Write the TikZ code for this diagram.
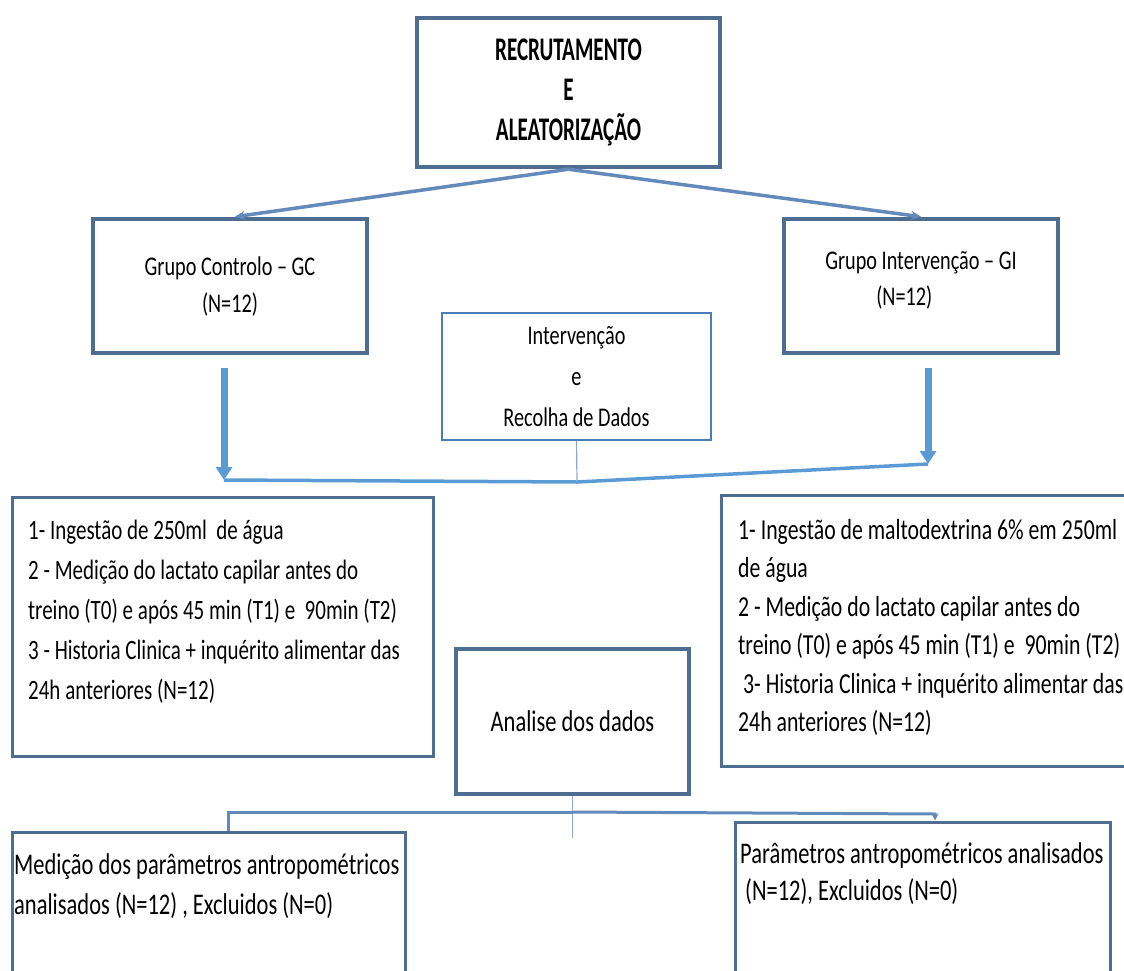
\documentclass[tikz,border=0pt]{standalone}
\usepackage{fontspec}
\setmainfont{Carlito}[FakeStretch=0.75]
\newfontfamily\titlefont{Carlito}[FakeStretch=0.64]
\usetikzlibrary{arrows.meta,calc}
\definecolor{boxdark}{RGB}{79,109,145}
\definecolor{boxmid}{RGB}{74,126,187}
\definecolor{arrowblue}{RGB}{91,155,213}
\definecolor{linkblue}{RGB}{98,138,186}
\definecolor{thinblue}{RGB}{140,170,205}
\newcommand\bodyfs{\fontsize{28}{40}\selectfont}
\begin{document}
\begin{tikzpicture}[x=1pt,y=-1pt,
  boxthick/.style={draw=boxdark, line width=4.5pt, inner sep=0pt},
  boxmed/.style={draw=boxdark, line width=3pt, inner sep=0pt},
  boxthin/.style={draw=boxmid, line width=1.6pt, inner sep=0pt},
  bodytext/.style={inner sep=0pt, font=\bodyfs, text=black},
  diag/.style={draw=linkblue, line width=3.5pt, -{Stealth[length=10pt,width=9pt]}},
  downarrow/.style={draw=arrowblue, line width=7pt, -{Triangle[length=13pt,width=16pt]}},
  joinline/.style={draw=arrowblue, line width=3.5pt, line join=round},
  thinline/.style={draw=thinblue, line width=1.2pt},
  lowlink/.style={draw=linkblue, line width=3pt}]
\useasboundingbox (0,0) rectangle (1124,971);
\clip (0,0) rectangle (1124,971);
% boxes
\node[boxthick, minimum width=303pt, minimum height=149pt, align=center,
      font={\titlefont\bfseries\fontsize{33}{40}\selectfont}] (top) at (568.5,92.5)
      {RECRUTAMENTO\\E\\ALEATORIZAÇÃO};
\node[boxthick, minimum width=274pt, minimum height=134pt, align=center,
      font={\fontsize{27}{37}\selectfont}] (gc) at (230,286)
      {Grupo Controlo – GC\\(N=12)};
\node[boxthick, minimum width=274pt, minimum height=134pt] (gi) at (921,286) {};
\node[bodytext, align=left, font={\fontsize{27}{36}\selectfont}] (gitext) at (921,280)
      {Grupo Intervenção – GI\\\hspace*{51pt}(N=12)};
\node[boxthin, minimum width=269pt, minimum height=127pt, align=center,
      font={\fontsize{27}{41}\selectfont}] (mid) at (576.5,376.5)
      {Intervenção\\e\\Recolha de Dados};
\node[boxmed, minimum width=421pt, minimum height=259pt] (tl) at (222.5,626.5) {};
\node[bodytext, align=left, anchor=north west] (tltext) at (28,517)
      {\rule{0pt}{22.4pt}1- Ingestão de 250ml\ \ de água\\
       2 - Medição do lactato capilar antes do\\
       treino (T0) e após 45 min (T1) e\ \ 90min (T2)\\
       3 - Historia Clinica + inquérito alimentar das\\
       24h anteriores (N=12)};
\node[boxmed, minimum width=414pt, minimum height=271pt] (tr) at (928,630.5) {};
\node[bodytext, align=left, anchor=north west, font={\fontsize{29}{38.5}\selectfont}] (trtext) at (738,516)
      {\rule{0pt}{23.2pt}1- Ingestão de maltodextrina 6\% em 250ml\\
       de água\\
       2 - Medição do lactato capilar antes do\\
       treino (T0) e após 45 min (T1) e\ \ 90min (T2)\\
       \hspace*{5pt}3- Historia Clinica + inquérito alimentar das\\
       24h anteriores (N=12)};
\node[boxmed, line width=3.5pt, minimum width=233pt, minimum height=145pt,
      font={\fontsize{30}{36}\selectfont}] (an) at (572.5,721.5)
      {Analise dos dados};
\node[boxmed, minimum width=393pt, minimum height=163pt] (bl) at (208.5,913.5) {};
\node[bodytext, align=left, anchor=north west, font={\fontsize{30}{40}\selectfont}] (bltext) at (14,850)
      {\rule{0pt}{24pt}Medição dos parâmetros antropométricos\\
       analisados (N=12) , Excluidos (N=0)};
\node[boxmed, minimum width=375pt, minimum height=173pt] (br) at (922.5,908.5) {};
\node[bodytext, align=left, anchor=north west, font={\fontsize{30}{37}\selectfont}] (brtext) at (740,839)
      {\rule{0pt}{24pt}Parâmetros antropométricos analisados\\
       \hspace*{5pt}(N=12), Excluidos (N=0)};
% connectors top
\draw[diag] (top.south) -- ($(gc.north)+(5,0)$);
\draw[diag] (top.south) -- (gi.north);
% junction coordinates
\coordinate (jl) at (224,480);
\coordinate (jm) at (577,482);
\coordinate (jr) at (928,464);
\draw[downarrow] ($(gc.south)+(-6,13)$) -- (jl);
\draw[downarrow] ($(gi.south)+(7,13)$) -- (jr);
\draw[joinline] (jl) -- (jm) -- (jr);
\draw[thinline] (mid.south) -- (jm);
% connectors bottom
\coordinate (kl) at (228,812);
\coordinate (km) at (573,812);
\coordinate (kr) at (935,814);
\draw[thinline] (an.south) -- ($(an.south)+(0,42)$);
\draw[lowlink] (kl |- bl.north) -- (kl) -- (km);
\draw[lowlink, -{Stealth[length=7pt,width=7pt]}] (km) -- (kr) -- (kr |- br.north);
\end{tikzpicture}
\end{document}
